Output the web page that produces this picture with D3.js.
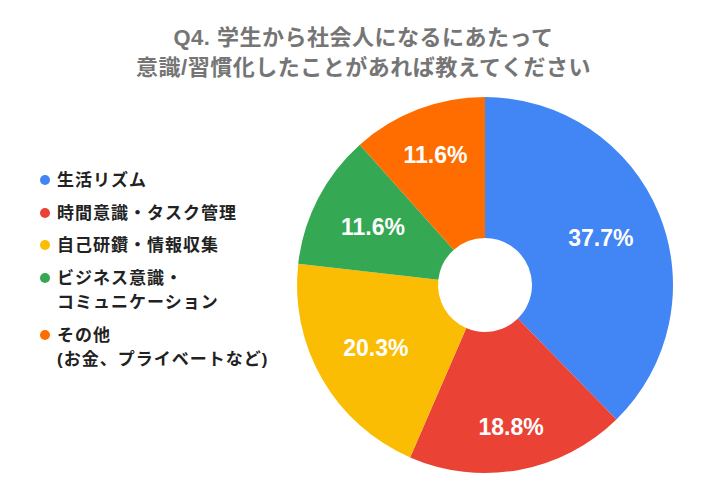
<!DOCTYPE html>
<html>
<head>
<meta charset="utf-8">
<script src="https://cdn.jsdelivr.net/npm/d3@7"></script>
<style>
  body { margin: 0; background: #fff; }
  svg { display: block; font-family: "Liberation Sans", Arial, "Noto Sans CJK JP", sans-serif; }
</style>
</head>
<body>
<div id="chart-area"></div>
<script>
// Data (69 answers in total)
const categories = ['生活リズム', '時間意識・タスク管理', '自己研鑽・情報収集', 'ビジネス意識・\nコミュニケーション', 'その他\n(お金、プライベートなど)'];
const counts = [26, 13, 14, 8, 8];
const colors = ['#4285F4', '#EA4335', '#FBBC04', '#34A853', '#FF6D01'];
const titleLines = ['Q4. 学生から社会人になるにあたって', '意識/習慣化したことがあれば教えてください'];

const width = 727;
const height = 499;

const svg = d3.select('#chart-area')
    .append('svg')
    .attr('width', width)
    .attr('height', height);

// Title
svg.append('g')
    .selectAll('text')
    .data(titleLines)
    .enter()
    .append('text')
    .attr('x', width / 2)
    .attr('y', (d, i) => 45 + i * 30)
    .attr('text-anchor', 'middle')
    .attr('font-size', '22px')
    .attr('letter-spacing', '0.5px')
    .attr('font-weight', 'bold')
    .attr('fill', '#757575')
    .text(d => d);

// Pie
const cx = 485, cy = 285, rOuter = 188, rInner = 47;
const total = d3.sum(counts);

const pie = d3.pie().sort(null).value(d => d);
const arc = d3.arc().innerRadius(rInner).outerRadius(rOuter);

const graph = svg.append('g')
    .attr('transform', `translate(${cx}, ${cy})`);

const slices = pie(counts);

graph.selectAll('path')
    .data(slices)
    .enter()
    .append('path')
    .attr('d', arc)
    .attr('fill', (d, i) => colors[i]);

// Percent labels: pushed out until the far side of the text box sits near 0.84 R
const labels = graph.selectAll('text')
    .data(slices)
    .enter()
    .append('text')
    .attr('text-anchor', 'middle')
    .attr('dy', '0.36em')
    .attr('font-size', '23px')
    .attr('font-weight', 'bold')
    .attr('fill', '#fff')
    .text(d => (d.value / total * 100).toFixed(1) + '%');

labels.each(function (d) {
    const hw = this.getComputedTextLength() / 2;
    const hh = 8.5;
    const a = (d.startAngle + d.endAngle) / 2;
    const ux = Math.sin(a), uy = -Math.cos(a);
    const r = 158.5 - (hw * Math.abs(ux) + hh * Math.abs(uy));
    d3.select(this).attr('transform', `translate(${ux * r}, ${uy * r})`);
});

// Legend
const legendY = [180, 213, 245, 278, 335];
const legend = svg.append('g')
    .selectAll('g')
    .data(categories)
    .enter()
    .append('g')
    .attr('transform', (d, i) => `translate(45, ${legendY[i]})`);

legend.append('circle')
    .attr('r', 5)
    .attr('fill', (d, i) => colors[i]);

legend.append('text')
    .attr('font-size', '17px')
    .attr('letter-spacing', '1px')
    .attr('font-weight', 'bold')
    .attr('fill', '#222')
    .selectAll('tspan')
    .data(d => d.split('\n'))
    .enter()
    .append('tspan')
    .attr('x', 12)
    .attr('y', (d, i) => i * 24)
    .attr('dy', '0.36em')
    .text(d => d);
</script>
</body>
</html>
